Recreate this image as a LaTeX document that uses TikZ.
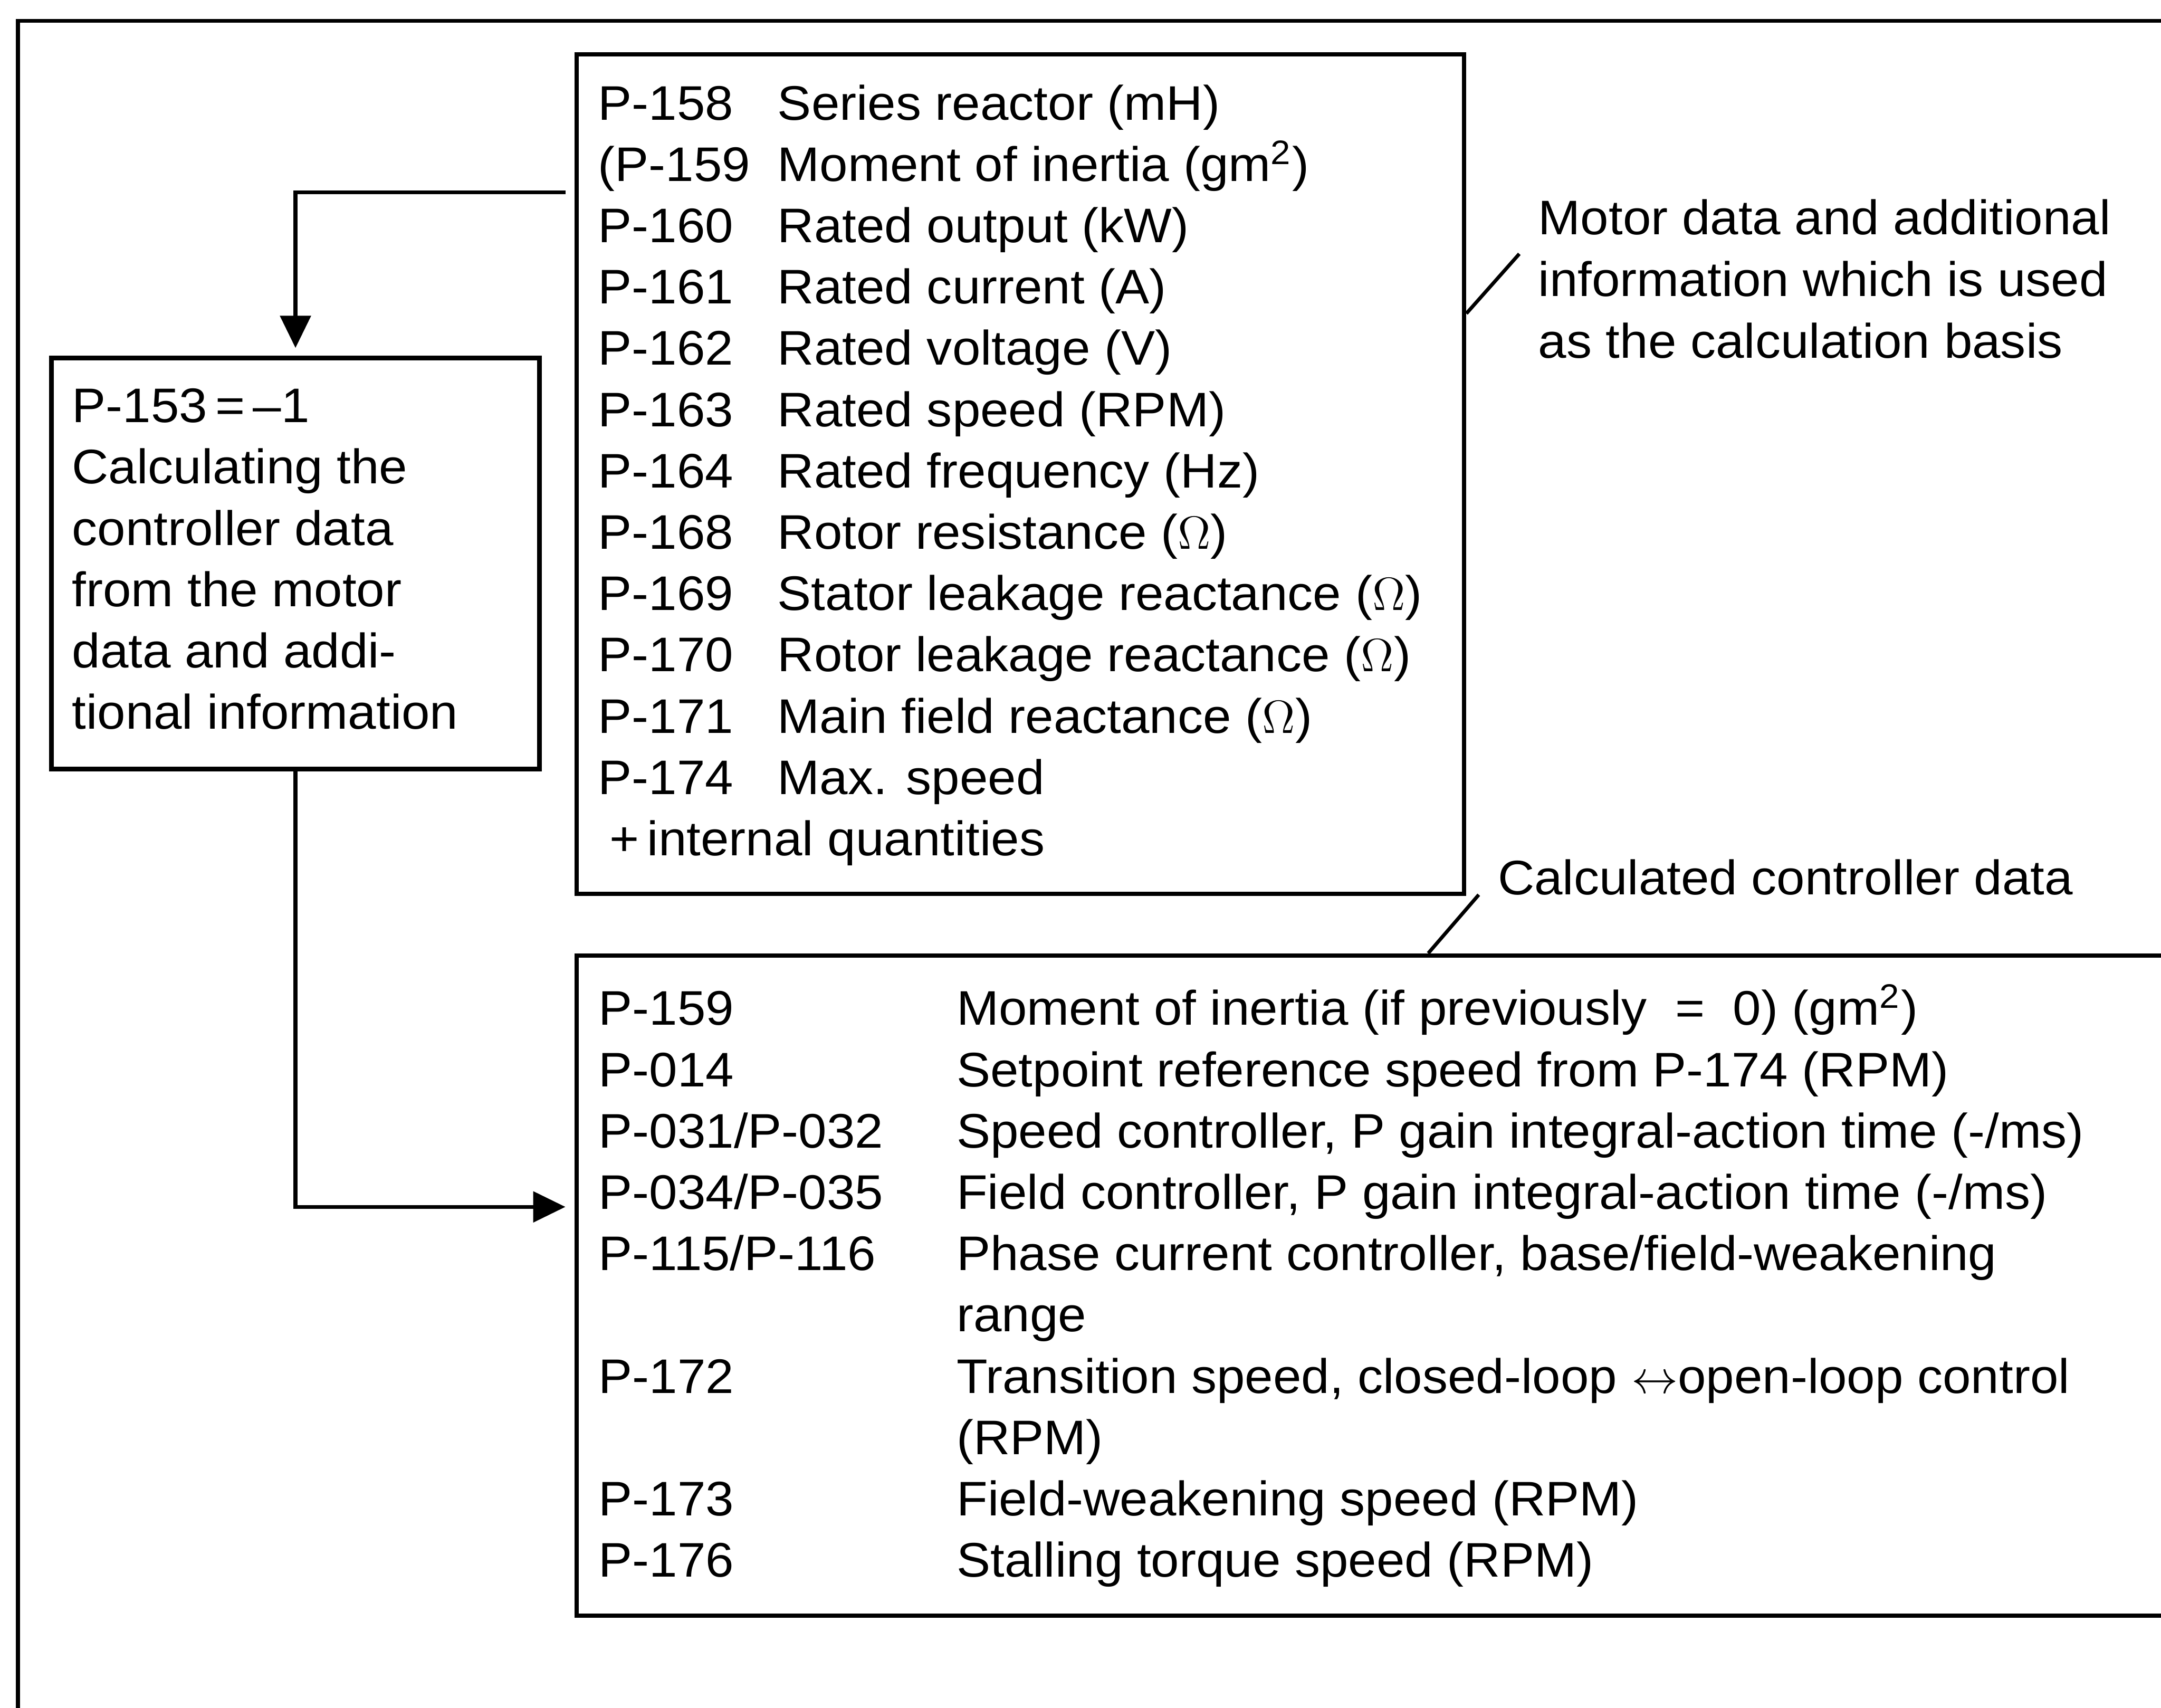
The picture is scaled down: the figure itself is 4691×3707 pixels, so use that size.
\documentclass[tikz,border=0pt]{standalone}
\usepackage{fontspec}
\setmainfont{Liberation Sans}[FakeStretch=1.045]
\usepackage{amsmath}
\usepackage{array}
\usetikzlibrary{arrows.meta,positioning,calc}

\begin{document}
\begin{tikzpicture}[x=0.005cm,y=-0.005cm,
  box/.style={draw,line width=1.4pt,anchor=north west,inner sep=0pt},
  txt/.style={anchor=base west,inner sep=0pt,font=\fontsize{15}{18.95}\selectfont},
  flow/.style={line width=1.2pt,-{Triangle[length=0.35cm,width=0.33cm]}},
  lead/.style={line width=1.1pt}]
\useasboundingbox (0,0) rectangle (4691,3707);
\clip (0,0) rectangle (4691,3707);
% outer frame, cut off at the right and at the bottom
\draw[line width=1.2pt] (39,3707) -- (39,45) -- (4691,45);

\node[box,minimum width=9.64cm,minimum height=9.12cm] (motor) at (1247,113) {};
\node[box,minimum width=5.3cm,minimum height=4.465cm] (calc) at (107,772) {};
\node[box,minimum width=17.6cm,minimum height=7.17cm] (ctrl) at (1247,2069) {};

\node[txt] (motorlist) at (1297,260) {\begin{tabular}[t]{@{}p{1.95cm}@{}l@{}}
P-158 & Series reactor (mH)\\
(P-159 & Moment of inertia (gm\textsuperscript{2})\\
P-160 & Rated output (kW)\\
P-161 & Rated current (A)\\
P-162 & Rated voltage (V)\\
P-163 & Rated speed (RPM)\\
P-164 & Rated frequency (Hz)\\
P-168 & Rotor resistance ($\Omega$)\\
P-169 & Stator leakage reactance ($\Omega$)\\
P-170 & Rotor leakage reactance ($\Omega$)\\
P-171 & Main field reactance ($\Omega$)\\
P-174 & Max. speed\\
\multicolumn{2}{@{\hspace{0.125cm}}l@{}}{+\,internal quantities}
\end{tabular}};

\node[txt] (calctext) at (155,917) {\begin{tabular}[t]{@{}l@{}}
P-153\,=\,--1\\
Calculating the\\
controller data\\
from the motor\\
data and addi-\\
tional information
\end{tabular}};

\node[txt] (ctrllist) at (1298,2225) {\begin{tabular}[t]{@{}p{3.89cm}@{}l@{}}
P-159 & Moment of inertia (if previously~~=~~0) (gm\textsuperscript{2})\\
P-014 & Setpoint reference speed from P-174 (RPM)\\
P-031/P-032 & Speed controller, P gain integral-action time (-/ms)\\
P-034/P-035 & Field controller, P gain integral-action time (-/ms)\\
P-115/P-116 & Phase current controller, base/field-weakening\\
 & range\\
P-172 & Transition speed, closed-loop $\leftrightarrow$open-loop control\\
 & (RPM)\\
P-173 & Field-weakening speed (RPM)\\
P-176 & Stalling torque speed (RPM)
\end{tabular}};

\node[txt,font=\fontsize{15}{19.1}\selectfont] (motornote) at (3338,509) {\begin{tabular}[t]{@{}l@{}}
Motor data and additional\\
information which is used\\
as the calculation basis
\end{tabular}};
\node[txt] (ctrlnote) at (3250,1942) {Calculated controller data};

% short leader strokes to the notes
\coordinate (mtick) at (3298,551);
\coordinate (ctick) at (3210,1942);
\draw[lead] ([yshift=-2.84cm]motor.north east) -- (mtick);
\draw[lead] ([xshift=9.275cm]ctrl.north west) -- (ctick);

\draw[flow,shorten <=2.7pt,shorten >=2.4pt] ([yshift=-1.525cm]motor.north west) -| (calc.north);
\draw[flow,shorten >=2.8pt] (calc.south) |- ([yshift=-2.755cm]ctrl.north west);
\end{tikzpicture}
\end{document}
